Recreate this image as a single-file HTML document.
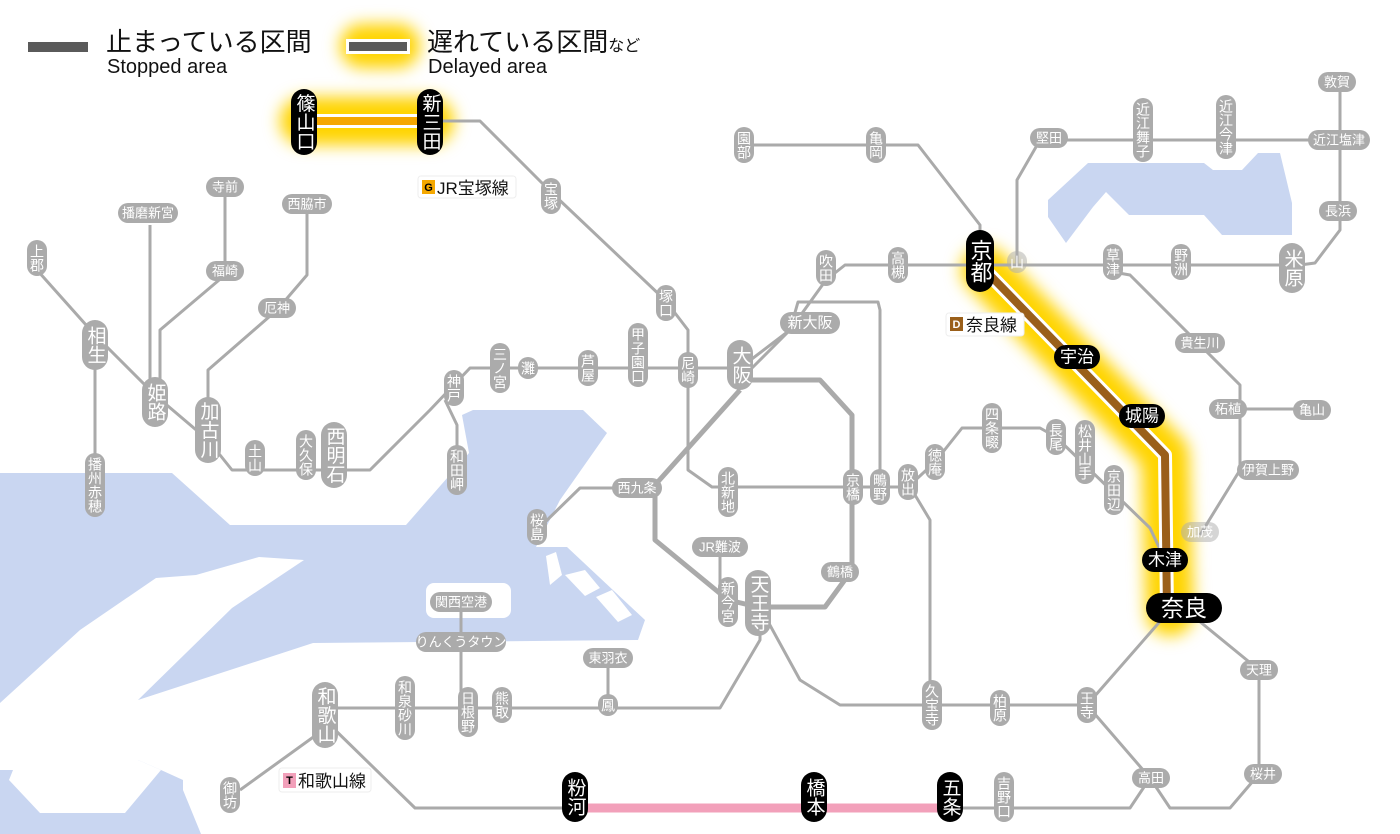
<!DOCTYPE html>
<html><head><meta charset="utf-8"><style>
html,body{margin:0;padding:0;background:#fff}
svg{display:block}
text{font-family:"Liberation Sans","Noto Sans CJK JP",sans-serif}
.p{fill:#ababab}
.k{fill:#000}
.t{fill:#fff;font-size:14px;text-anchor:middle;dominant-baseline:central}
.b{font-size:19px}
.v{writing-mode:vertical-rl;text-orientation:upright}
.l{fill:none;stroke:#aaa;stroke-width:3;stroke-linejoin:round}
.lt{fill:none;stroke:#aaa;stroke-width:5;stroke-linejoin:round}
</style></head><body>
<svg width="1400" height="834" viewBox="0 0 1400 834" xmlns="http://www.w3.org/2000/svg">
<defs><filter id="g" x="-30%" y="-30%" width="160%" height="160%"><feGaussianBlur stdDeviation="8"/></filter></defs>
<!-- water -->
<g fill="#c9d6f1">
<polygon points="0,473 172,473 230,525 406,525 469,453 462,415 473,410 583,410 607,433 560,500 536,547 567,547 645,620 638,640 313,643 138,700 138,760 161,770 183,780 183,790 201,834 0,834"/>
<polygon points="1088,163 1204,163 1213,170 1242,170 1258,153 1280,153 1292,203 1292,235 1222,235 1204,215 1129,215 1106,192 1093,207 1066,243 1048,217 1048,200"/>
</g>
<g fill="#fff">
<polygon points="156,578 196,575 259,557 304,560 232,608 138,700 138,760 161,770 125,813 40,813 9,780 13,770 0,770 0,703 80,630"/>
<rect x="426" y="583" width="85" height="35" rx="8"/>
<polygon points="546,556 556,552 562,575 550,585"/>
<polygon points="596,597 612,590 632,615 618,622"/>
<polygon points="565,575 585,570 600,588 585,596"/>
</g>
<!-- glows -->
<g filter="url(#g)" stroke="#ffd400" fill="none" stroke-linecap="round">
<line x1="304" y1="121" x2="430" y2="121" stroke-width="48"/>
<polyline points="985,270 1165,455 1170,612" stroke-width="48" stroke-linejoin="round"/>
<line x1="362" y1="46" x2="398" y2="46" stroke-width="44"/>
</g>
<!-- lines -->
<g class="l">
<polyline points="37,270 95,335 155,395 208,440"/>
<line x1="95" y1="360" x2="95" y2="470"/>
<line x1="150" y1="225" x2="150" y2="395"/>
<polyline points="160,385 160,330 225,275 225,190"/>
<polyline points="208,420 208,370 277,310 307,275 307,204"/>
<polyline points="208,440 232,470 370,470 430,410 470,368 740,368"/>
<polyline points="445,400 457,425 457,470"/>
<polyline points="435,121 480,121 551,192 665,300 688,330 688,470 712,487 910,487"/>
<polyline points="740,368 790,330 826,280 845,265 1300,265 1315,263 1340,230 1340,82"/>
<polyline points="752,368 790,330 798,302 878,302 880,310 880,487"/>
<polyline points="744,145 918,145 980,225 980,265"/>
<polyline points="1017,265 1017,180 1040,140 1340,140"/>
<polyline points="1113,272 1130,275 1240,385 1240,470 1200,535"/>
<line x1="1228" y1="409" x2="1312" y2="409"/>
<polyline points="908,487 935,462 962,428 1040,428 1056,437 1150,528 1165,560"/>
<polyline points="912,490 930,520 930,705 840,705 800,680 760,607"/>
<polyline points="930,705 1087,705 1170,610"/>
<polyline points="1182,607 1259,670 1259,774 1230,808 1170,808 1150,778 1087,705"/>
<polyline points="1150,778 1130,808 950,808"/>
<polyline points="575,808 415,808 330,725 240,790"/>
<polyline points="330,708 720,708 760,640 760,607"/>
<line x1="461" y1="602" x2="461" y2="708"/>
<line x1="608" y1="658" x2="608" y2="708"/>
<polyline points="720,547 720,585 728,600"/>
<polyline points="637,488 580,488 540,527"/>
</g>
<g class="lt">
<polyline points="740,380 820,380 852,415 852,570 825,607 758,607 728,600 655,540 655,485 740,390"/>
</g>
<!-- delayed/stopped segments -->
<line x1="304" y1="121" x2="430" y2="121" stroke="#fff" stroke-width="14"/>
<line x1="304" y1="121" x2="430" y2="121" stroke="#f5a800" stroke-width="8"/>
<polyline points="985,270 1165,455 1167,612" fill="none" stroke="#fff" stroke-width="14" stroke-linejoin="round"/>
<polyline points="985,270 1165,455 1167,612" fill="none" stroke="#9a5f1a" stroke-width="8" stroke-linejoin="round"/>
<line x1="575" y1="808" x2="950" y2="808" stroke="#f2a0ba" stroke-width="9"/>
<!-- legend -->
<rect x="28" y="42" width="60" height="10" fill="#5a5a5a"/>
<text x="106" y="51" font-size="26" fill="#111">止まっている区間</text>
<text x="107" y="73" font-size="20" fill="#111">Stopped area</text>
<rect x="346" y="39" width="64" height="15" fill="#fff"/>
<rect x="349" y="42" width="58" height="9" fill="#5a5a5a"/>
<text x="427" y="51" font-size="26" fill="#111">遅れている区間<tspan font-size="16">など</tspan></text>
<text x="428" y="73" font-size="20" fill="#111">Delayed area</text>
<!-- line labels -->
<rect x="418" y="176" width="98" height="22" rx="3" fill="#fff" stroke="#eee"/>
<rect x="422" y="180" width="13" height="14" fill="#f5a800"/>
<text x="428.5" y="188" font-size="11" fill="#000" text-anchor="middle" dominant-baseline="central" font-weight="bold">G</text>
<text x="437" y="194" font-size="17" fill="#111">JR宝塚線</text>
<rect x="946" y="313" width="78" height="23" rx="3" fill="#fff" stroke="#eee"/>
<rect x="950" y="317" width="13" height="14" fill="#9a5f1a"/>
<text x="956.5" y="325" font-size="11" fill="#fff" text-anchor="middle" dominant-baseline="central" font-weight="bold">D</text>
<text x="966" y="331" font-size="17" fill="#111">奈良線</text>
<rect x="279" y="768" width="92" height="24" rx="3" fill="#fff" stroke="#eee"/>
<rect x="283" y="773" width="13" height="15" fill="#f2a0ba"/>
<text x="289.5" y="781" font-size="11" fill="#000" text-anchor="middle" dominant-baseline="central" font-weight="bold">T</text>
<text x="298" y="787" font-size="17" fill="#111">和歌山線</text>
<!-- small vertical stations -->
<g>
<rect class="p" x="27" y="240" width="20" height="36" rx="10"/><text class="t v" x="37" y="258">上郡</text>
<rect class="p" x="85" y="453" width="20" height="64" rx="10"/><text class="t v" x="95" y="485">播州赤穂</text>
<rect class="p" x="245" y="440" width="20" height="36" rx="10"/><text class="t v" x="255" y="458">土山</text>
<rect class="p" x="296" y="430" width="20" height="50" rx="10"/><text class="t v" x="306" y="455">大久保</text>
<rect class="p" x="447" y="445" width="20" height="50" rx="10"/><text class="t v" x="457" y="470">和田岬</text>
<rect class="p" x="444" y="370" width="20" height="36" rx="10"/><text class="t v" x="454" y="388">神戸</text>
<rect class="p" x="490" y="343" width="20" height="50" rx="10"/><text class="t v" x="500" y="368">三ノ宮</text>
<rect class="p" x="518" y="357" width="20" height="22" rx="10"/><text class="t v" x="528" y="368">灘</text>
<rect class="p" x="578" y="350" width="20" height="36" rx="10"/><text class="t v" x="588" y="368">芦屋</text>
<rect class="p" x="628" y="323" width="20" height="64" rx="10"/><text class="t v" x="638" y="355">甲子園口</text>
<rect class="p" x="678" y="352" width="20" height="36" rx="10"/><text class="t v" x="688" y="370">尼崎</text>
<rect class="p" x="656" y="285" width="20" height="36" rx="10"/><text class="t v" x="666" y="303">塚口</text>
<rect class="p" x="541" y="178" width="20" height="36" rx="10"/><text class="t v" x="551" y="196">宝塚</text>
<rect class="p" x="816" y="250" width="20" height="36" rx="10"/><text class="t v" x="826" y="268">吹田</text>
<rect class="p" x="888" y="247" width="20" height="36" rx="10"/><text class="t v" x="898" y="265">高槻</text>
<rect class="p" x="734" y="127" width="20" height="36" rx="10"/><text class="t v" x="744" y="145">園部</text>
<rect class="p" x="866" y="127" width="20" height="36" rx="10"/><text class="t v" x="876" y="145">亀岡</text>
<rect class="p" x="1133" y="98" width="20" height="64" rx="10"/><text class="t v" x="1143" y="130">近江舞子</text>
<rect class="p" x="1216" y="95" width="20" height="64" rx="10"/><text class="t v" x="1226" y="127">近江今津</text>
<rect class="p" x="1103" y="244" width="20" height="36" rx="10"/><text class="t v" x="1113" y="262">草津</text>
<rect class="p" x="1171" y="244" width="20" height="36" rx="10"/><text class="t v" x="1181" y="262">野洲</text>
<rect class="p" x="1007" y="251" width="20" height="22" rx="10" opacity=".5"/><text class="t v" x="1017" y="262">山</text>
<rect class="p" x="1077" y="687" width="20" height="36" rx="10"/><text class="t v" x="1087" y="705">王寺</text>
<rect class="p" x="990" y="690" width="20" height="36" rx="10"/><text class="t v" x="1000" y="708">柏原</text>
<rect class="p" x="922" y="680" width="20" height="50" rx="10"/><text class="t v" x="932" y="705">久宝寺</text>
<rect class="p" x="994" y="772" width="20" height="50" rx="10"/><text class="t v" x="1004" y="797">吉野口</text>
<rect class="p" x="220" y="777" width="20" height="36" rx="10"/><text class="t v" x="230" y="795">御坊</text>
<rect class="p" x="395" y="676" width="20" height="64" rx="10"/><text class="t v" x="405" y="708">和泉砂川</text>
<rect class="p" x="458" y="687" width="20" height="50" rx="10"/><text class="t v" x="468" y="712">日根野</text>
<rect class="p" x="492" y="687" width="20" height="36" rx="10"/><text class="t v" x="502" y="705">熊取</text>
<rect class="p" x="598" y="694" width="20" height="22" rx="10"/><text class="t v" x="608" y="705">鳳</text>
<rect class="p" x="718" y="577" width="20" height="50" rx="10"/><text class="t v" x="728" y="602">新今宮</text>
<rect class="p" x="843" y="469" width="20" height="36" rx="10"/><text class="t v" x="853" y="487">京橋</text>
<rect class="p" x="870" y="469" width="20" height="36" rx="10"/><text class="t v" x="880" y="487">鴫野</text>
<rect class="p" x="898" y="464" width="20" height="36" rx="10"/><text class="t v" x="908" y="482">放出</text>
<rect class="p" x="925" y="444" width="20" height="36" rx="10"/><text class="t v" x="935" y="462">徳庵</text>
<rect class="p" x="982" y="403" width="20" height="50" rx="10"/><text class="t v" x="992" y="428">四条畷</text>
<rect class="p" x="1046" y="419" width="20" height="36" rx="10"/><text class="t v" x="1056" y="437">長尾</text>
<rect class="p" x="1075" y="420" width="20" height="64" rx="10"/><text class="t v" x="1085" y="452">松井山手</text>
<rect class="p" x="1104" y="465" width="20" height="50" rx="10"/><text class="t v" x="1114" y="490">京田辺</text>
<rect class="p" x="718" y="467" width="20" height="50" rx="10"/><text class="t v" x="728" y="492">北新地</text>
<rect class="p" x="527" y="509" width="20" height="36" rx="10"/><text class="t v" x="537" y="527">桜島</text>
</g>
<!-- big vertical -->
<g>
<rect class="p" x="82" y="320" width="26" height="50" rx="13"/><text class="t b v" x="95" y="345">相生</text>
<rect class="p" x="142" y="377" width="26" height="50" rx="13"/><text class="t b v" x="155" y="402">姫路</text>
<rect class="p" x="195" y="397" width="26" height="66" rx="13"/><text class="t b v" x="208" y="430">加古川</text>
<rect class="p" x="321" y="422" width="26" height="66" rx="13"/><text class="t b v" x="334" y="455">西明石</text>
<rect class="p" x="727" y="340" width="26" height="50" rx="13"/><text class="t b v" x="740" y="365">大阪</text>
<rect class="p" x="1279" y="243" width="26" height="50" rx="13"/><text class="t b v" x="1292" y="268">米原</text>
<rect class="p" x="312" y="682" width="26" height="66" rx="13"/><text class="t b v" x="325" y="715">和歌山</text>
<rect class="p" x="745" y="570" width="26" height="66" rx="13"/><text class="t b v" x="758" y="603">天王寺</text>
</g>
<!-- black stations -->
<g>
<rect class="k" x="966" y="230" width="28" height="62" rx="14"/><text class="t v" style="font-size:22px" x="980" y="261">京都</text>
<rect class="k" x="291" y="89" width="26" height="66" rx="13"/><text class="t b v" x="304" y="122">篠山口</text>
<rect class="k" x="417" y="89" width="26" height="66" rx="13"/><text class="t b v" x="430" y="122">新三田</text>
<rect class="k" x="562" y="772" width="26" height="50" rx="13"/><text class="t b v" x="575" y="797">粉河</text>
<rect class="k" x="801" y="772" width="26" height="50" rx="13"/><text class="t b v" x="814" y="797">橋本</text>
<rect class="k" x="937" y="772" width="26" height="50" rx="13"/><text class="t b v" x="950" y="797">五条</text>
<rect class="k" x="1054" y="345" width="46" height="24" rx="12"/><text class="t" style="font-size:17px" x="1077" y="357">宇治</text>
<rect class="k" x="1119" y="404" width="46" height="24" rx="12"/><text class="t" style="font-size:17px" x="1142" y="416">城陽</text>
<rect class="k" x="1142" y="548" width="46" height="24" rx="12"/><text class="t" style="font-size:17px" x="1165" y="560">木津</text>
<rect class="k" x="1146" y="593" width="76" height="30" rx="15"/><text class="t" style="font-size:23px" x="1184" y="608">奈良</text>
</g>
<!-- horizontal small -->
<g>
<rect class="p" x="118" y="203" width="60" height="20" rx="10"/><text class="t" style="font-size:13px" x="148" y="213">播磨新宮</text>
<rect class="p" x="206" y="177" width="38" height="20" rx="10"/><text class="t" style="font-size:13px" x="225" y="187">寺前</text>
<rect class="p" x="206" y="261" width="38" height="20" rx="10"/><text class="t" style="font-size:13px" x="225" y="271">福崎</text>
<rect class="p" x="282" y="194" width="50" height="20" rx="10"/><text class="t" style="font-size:13px" x="307" y="204">西脇市</text>
<rect class="p" x="258" y="298" width="38" height="20" rx="10"/><text class="t" style="font-size:13px" x="277" y="308">厄神</text>
<rect class="p" x="780" y="312" width="60" height="22" rx="11"/><text class="t" style="font-size:15px" x="810" y="323">新大阪</text>
<rect class="p" x="1030" y="128" width="38" height="20" rx="10"/><text class="t" style="font-size:13px" x="1049" y="138">堅田</text>
<rect class="p" x="1318" y="72" width="38" height="20" rx="10"/><text class="t" style="font-size:13px" x="1337" y="82">敦賀</text>
<rect class="p" x="1308" y="130" width="62" height="20" rx="10"/><text class="t" style="font-size:13px" x="1339" y="140">近江塩津</text>
<rect class="p" x="1319" y="201" width="38" height="20" rx="10"/><text class="t" style="font-size:13px" x="1338" y="211">長浜</text>
<rect class="p" x="1175" y="333" width="50" height="20" rx="10"/><text class="t" style="font-size:13px" x="1200" y="343">貴生川</text>
<rect class="p" x="1209" y="399" width="38" height="20" rx="10"/><text class="t" style="font-size:13px" x="1228" y="409">柘植</text>
<rect class="p" x="1293" y="400" width="38" height="20" rx="10"/><text class="t" style="font-size:13px" x="1312" y="410">亀山</text>
<rect class="p" x="1237" y="460" width="62" height="20" rx="10"/><text class="t" style="font-size:13px" x="1268" y="470">伊賀上野</text>
<rect class="p" x="1181" y="522" width="38" height="20" rx="10" opacity=".5"/><text class="t" style="font-size:13px" x="1200" y="532">加茂</text>
<rect class="p" x="1240" y="660" width="38" height="20" rx="10"/><text class="t" style="font-size:13px" x="1259" y="670">天理</text>
<rect class="p" x="1244" y="764" width="38" height="20" rx="10"/><text class="t" style="font-size:13px" x="1263" y="774">桜井</text>
<rect class="p" x="1132" y="768" width="38" height="20" rx="10"/><text class="t" style="font-size:13px" x="1151" y="778">高田</text>
<rect class="p" x="583" y="648" width="50" height="20" rx="10"/><text class="t" style="font-size:13px" x="608" y="658">東羽衣</text>
<rect class="p" x="416" y="632" width="90" height="20" rx="10"/><text class="t" style="font-size:13px" x="461" y="642">りんくうタウン</text>
<rect class="p" x="430" y="592" width="62" height="20" rx="10"/><text class="t" style="font-size:13px" x="461" y="602">関西空港</text>
<rect class="p" x="692" y="537" width="56" height="20" rx="10"/><text class="t" style="font-size:13px" x="720" y="547">JR難波</text>
<rect class="p" x="821" y="562" width="38" height="20" rx="10"/><text class="t" style="font-size:13px" x="840" y="572">鶴橋</text>
<rect class="p" x="612" y="478" width="50" height="20" rx="10"/><text class="t" style="font-size:13px" x="637" y="488">西九条</text>
</g>
</svg>
</body></html>
